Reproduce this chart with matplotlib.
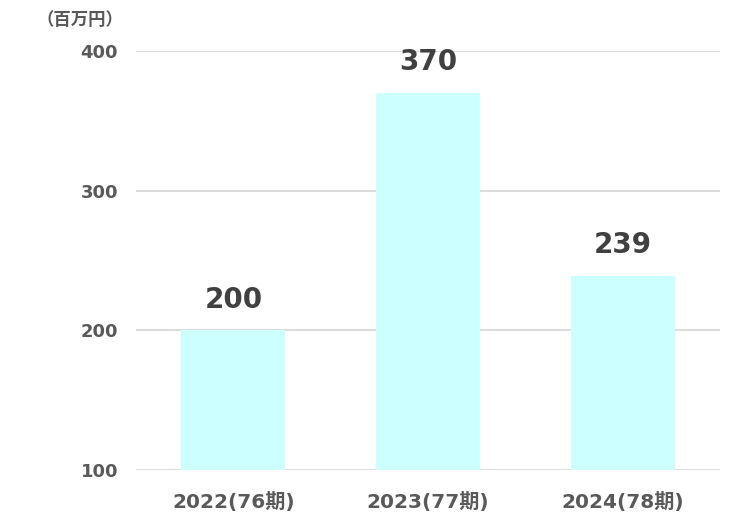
import matplotlib.pyplot as plt

# データ
categories = ['2022(76期)', '2023(77期)', '2024(78期)']
values = [200, 370, 239]
yticks = [100, 200, 300, 400]

fonts = ['DejaVu Sans', 'Noto Sans CJK JP']
plt.rcParams['font.family'] = fonts

fig = plt.figure(figsize=(7.45, 5.25), dpi=100)
ax = fig.add_axes([0.1826, 0.1048, 0.7838, 0.7981])

x = range(len(categories))
bars = ax.bar(x, values, width=0.535, color='#CCFFFF', zorder=2)

ax.set_xlim(-0.5, 2.5)
ax.set_ylim(100, 400)
ax.set_yticks(yticks)
ax.set_xticks(list(x))
ax.set_xticklabels(categories)

ax.grid(axis='y', color='#D9D9D9', linewidth=1.3, zorder=0)
ax.set_axisbelow(True)
for s in ax.spines.values():
    s.set_visible(False)
ax.tick_params(length=0, labelcolor='#595959')
ax.tick_params(axis='y', pad=13, labelsize=13)
ax.tick_params(axis='x', pad=15.5, labelsize=14.5)
for lab in ax.get_xticklabels() + ax.get_yticklabels():
    lab.set_fontweight('bold')

# 値ラベル
for xi, v in zip(x, values):
    ax.annotate(str(v), (xi, v), xytext=(0, 12), textcoords='offset points',
                ha='center', va='bottom', fontsize=20, fontweight='bold',
                color='#404040')

# 単位
fig.text(0.166, 0.962, '（百万円）', ha='right', va='center', fontsize=12.5,
         fontweight='bold', color='#595959', family=['Noto Sans CJK JP', 'DejaVu Sans'])

fig.savefig('out.png', dpi=100)
